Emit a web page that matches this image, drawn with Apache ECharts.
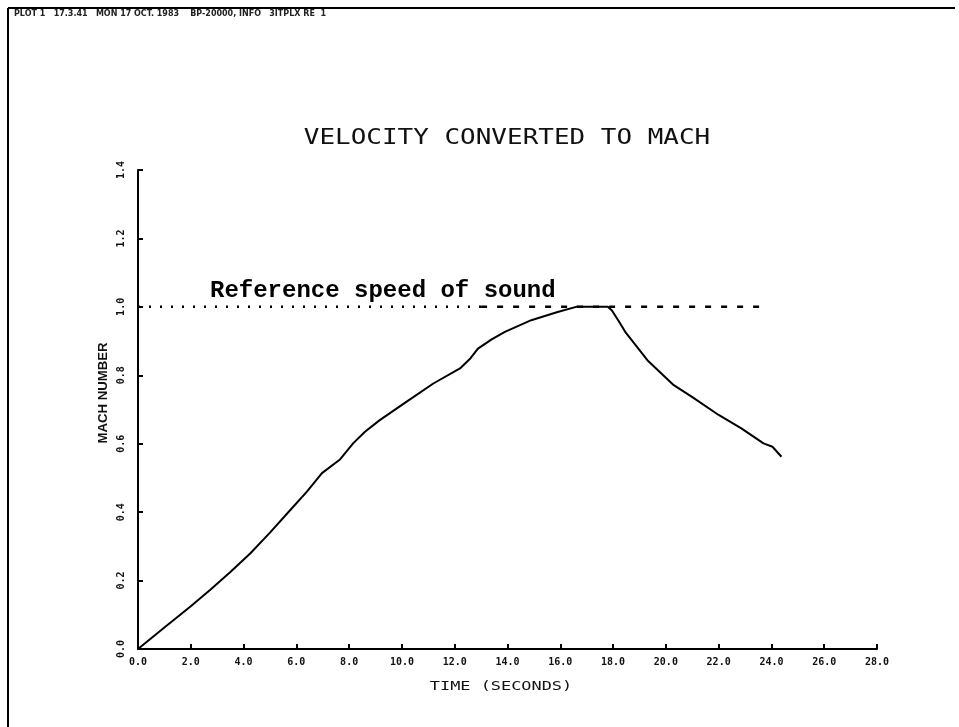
<!DOCTYPE html>
<html>
<head>
<meta charset="utf-8">
<script src="https://cdn.jsdelivr.net/npm/echarts@6/dist/echarts.min.js"></script>
<style>html,body{margin:0;padding:0;background:#fff}#c{width:959px;height:727px}</style>
</head>
<body>
<div id="c"></div>
<script>
const timeSeconds = [0,1.0,2.0,2.74,3.5,4.26,5.0,5.78,6.4,6.97,7.64,8.15,8.6,9.16,10.18,11.19,12.2,12.6,12.88,13.4,13.9,14.9,15.9,16.6,17.8,17.95,18.2,18.46,19.3,20.3,20.99,22.0,22.86,23.7,24.04,24.38];
const machNumber  = [0,0.063,0.125,0.173,0.225,0.28,0.34,0.407,0.46,0.514,0.553,0.601,0.635,0.669,0.723,0.776,0.82,0.85,0.878,0.905,0.927,0.961,0.985,1.0,1.0,0.99,0.96,0.927,0.844,0.771,0.737,0.684,0.645,0.601,0.591,0.562];
const refDottedX = [0, 13];
const refDashedX = [13, 23.8];
const refMach = 1.0;
const xTicks = {min:0, max:28, interval:2};
const yTicks = {min:0, max:1.4, interval:0.2};

const curve = timeSeconds.map((t,i)=>[t, machNumber[i]]);
const chart = echarts.init(document.getElementById('c'));
chart.setOption({
  animation:false,
  backgroundColor:'#fff',
  grid:{left:138, right:82, top:170, bottom:78},
  xAxis:{type:'value', min:xTicks.min, max:xTicks.max, interval:xTicks.interval,
    axisLine:{lineStyle:{color:'#000', width:2}},
    axisTick:{inside:true, length:5, lineStyle:{color:'#000', width:2}},
    axisLabel:{formatter:v=>v.toFixed(1), fontFamily:'DejaVu Sans Mono', fontWeight:'bold', fontSize:10, color:'#111', margin:8},
    splitLine:{show:false}},
  yAxis:{type:'value', min:yTicks.min, max:yTicks.max, interval:yTicks.interval,
    axisLine:{show:true, lineStyle:{color:'#000', width:2}},
    axisTick:{show:true, inside:true, length:5, lineStyle:{color:'#000', width:2}},
    axisLabel:{formatter:v=>v.toFixed(1), rotate:90, fontFamily:'DejaVu Sans Mono', fontWeight:'bold', fontSize:10, color:'#111', margin:12},
    splitLine:{show:false}},
  series:[
    {type:'line', data:curve, showSymbol:false, lineStyle:{color:'#000', width:2}, z:3},
    {type:'line', data:refDottedX.map(x=>[x,refMach]), showSymbol:false,
      lineStyle:{color:'#000', width:2.5, type:[2,9]}},
    {type:'line', data:refDashedX.map(x=>[x,refMach]), showSymbol:false,
      lineStyle:{color:'#000', width:2.5, type:[6,10]}}
  ],
  graphic:[
    {type:'line', shape:{x1:8,y1:8,x2:955,y2:8}, style:{stroke:'#000', lineWidth:2}},
    {type:'line', shape:{x1:8,y1:8,x2:8,y2:727}, style:{stroke:'#000', lineWidth:2}},
    {type:'text', left:14, top:10, style:{text:'PLOT 1   17.3.41   MON 17 OCT. 1983    BP-20000, INFO   3ITPLX RE  1', font:'bold 8px DejaVu Sans', fill:'#222'}},
    {type:'text', x:507, y:138, scaleX:1.18, style:{text:'VELOCITY CONVERTED TO MACH', font:'normal 22px DejaVu Sans Mono', fill:'#111', textAlign:'center', textVerticalAlign:'middle'}},
    {type:'text', x:501, y:687, scaleX:1.3, style:{text:'TIME (SECONDS)', font:'normal 13px DejaVu Sans Mono', fill:'#111', textAlign:'center', textVerticalAlign:'middle'}},
    {type:'text', x:104, y:393, rotation:Math.PI/2, scaleX:1.1, style:{text:'MACH NUMBER', font:'bold 12px Liberation Sans', fill:'#111', textAlign:'center', textVerticalAlign:'middle'}},
    {type:'text', left:210, top:279, style:{text:'Reference speed of sound', font:'bold 24px Liberation Mono', fill:'#000'}}
  ]
});
</script>
</body>
</html>
